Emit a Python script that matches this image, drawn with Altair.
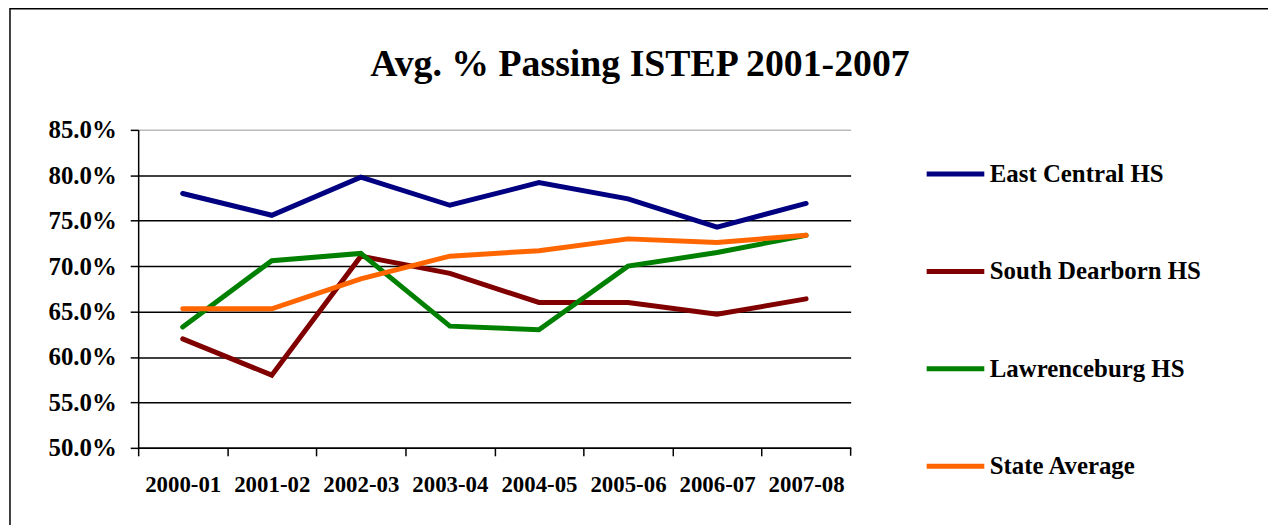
import altair as alt
import pandas as pd

years = ["2000-01", "2001-02", "2002-03", "2003-04", "2004-05", "2005-06", "2006-07", "2007-08"]
series_names = ["East Central HS", "South Dearborn HS", "Lawrenceburg HS", "State Average"]
east_central = [0.780, 0.756, 0.798, 0.767, 0.792, 0.774, 0.743, 0.769]
south_dearborn = [0.620, 0.580, 0.711, 0.692, 0.660, 0.660, 0.647, 0.664]
lawrenceburg = [0.633, 0.706, 0.714, 0.634, 0.630, 0.700, 0.715, 0.734]
state_average = [0.653, 0.653, 0.686, 0.711, 0.717, 0.730, 0.726, 0.734]
colors = ["#000080", "#800000", "#008000", "#FF6600"]
y_ticks = [0.50, 0.55, 0.60, 0.65, 0.70, 0.75, 0.80, 0.85]
title_text = "Avg. % Passing ISTEP 2001-2007"

rows = []
for name, vals in zip(series_names, [east_central, south_dearborn, lawrenceburg, state_average]):
    for yr, v in zip(years, vals):
        rows.append({"Year": yr, "Series": name, "Value": v})
df = pd.DataFrame(rows)

W, H = 717, 320
FONT = "Liberation Serif"
step = W / len(years)

lines = alt.Chart(df).mark_line(strokeWidth=5, strokeCap="round", strokeJoin="miter").encode(
    x=alt.X("Year:O", sort=years,
            scale=alt.Scale(type="point", padding=0.5),
            axis=alt.Axis(title=None, labelAngle=0, labelFont=FONT, labelFontSize=23,
                          labelFontWeight="bold", labelColor="black", labelPadding=18,
                          labelBaseline="top",
                          tickSize=8, tickColor="black", tickWidth=1.5,
                          tickOffset=-step / 2, labelOffset=step / 2,
                          domainColor="black", domainWidth=1.5, grid=False)),
    y=alt.Y("Value:Q",
            scale=alt.Scale(domain=[0.5, 0.85], nice=False, zero=False),
            axis=alt.Axis(title=None, values=y_ticks, format=".1%", labelFont=FONT,
                          labelFontSize=25, labelFontWeight="bold", labelColor="black",
                          labelPadding=14, tickSize=8, tickColor="black", tickWidth=1.5,
                          domainColor="black", domainWidth=1.5, grid=True,
                          gridColor={"condition": {"test": "datum.value >= 0.849", "value": "#bbbbbb"},
                                     "value": "black"},
                          gridWidth=1.5)),
    color=alt.Color("Series:N", sort=series_names,
                    scale=alt.Scale(domain=series_names, range=colors),
                    legend=alt.Legend(orient="none", legendX=791, legendY=13, title=None,
                                      symbolType="stroke", symbolSize=3364, symbolStrokeWidth=5,
                                      labelFont=FONT, labelFontSize=25, labelFontWeight="bold",
                                      labelColor="black", labelLimit=400, rowPadding=53,
                                      labelOffset=3, padding=0)),
)

one = alt.Data(values=[{}])

last_tick = alt.Chart(one).mark_rule(color="black", strokeWidth=1.5).encode(
    x=alt.value(W), y=alt.value(H), y2=alt.value(H + 8))

frame = alt.Chart(one).mark_rect(filled=False, stroke="black", strokeWidth=1.5).encode(
    x=alt.value(-129), x2=alt.value(1139), y=alt.value(-122), y2=alt.value(430))

title = alt.Chart(one).mark_text(font=FONT, fontSize=38, fontWeight="bold", color="black",
                                 align="center", baseline="alphabetic").encode(
    x=alt.value(505), y=alt.value(-54), text=alt.value(title_text))

chart = alt.layer(frame, lines, last_tick, title).properties(
    width=W, height=H,
    autosize=alt.AutoSizeParams(type="none"),
    padding={"left": 131, "top": 121, "right": 420, "bottom": 76},
    background="white",
).configure_view(stroke=None)

chart.save("out.html", embed_options={"renderer": "svg", "actions": False})
